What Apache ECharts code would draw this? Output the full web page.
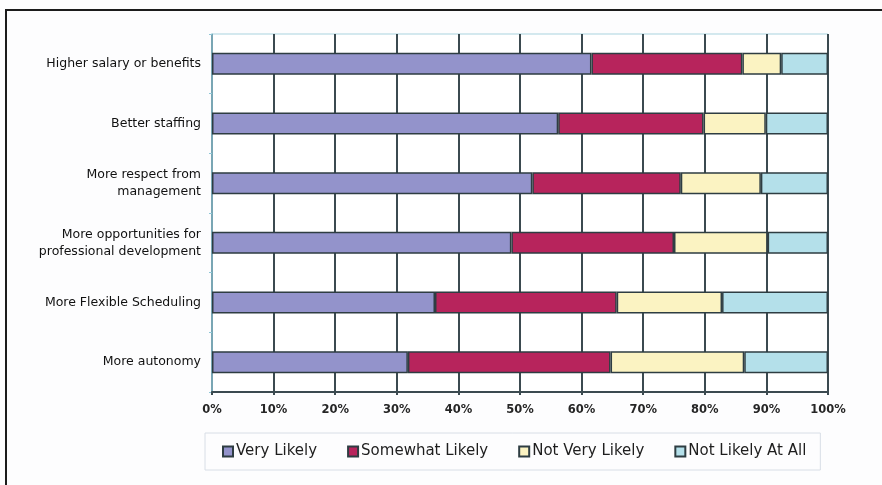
<!DOCTYPE html>
<html>
<head>
<meta charset="utf-8">
<script src="https://cdn.jsdelivr.net/npm/echarts@6/dist/echarts.min.js"></script>
<style>
  html, body { margin: 0; padding: 0; background: #fdfdfe; }
  #chart { width: 882px; height: 485px; }
</style>
</head>
<body>
<div id="chart"></div>
<script>
// Survey categories, top to bottom
const categories = [
  'Higher salary or benefits',
  'Better staffing',
  'More respect from\nmanagement',
  'More opportunities for\nprofessional development',
  'More Flexible Scheduling',
  'More autonomy'
];

// Share of respondents (%) per answer
const veryLikely     = [61.6, 56.2, 52.0, 48.6, 36.2, 31.8];
const somewhatLikely = [24.5, 23.6, 24.1, 26.4, 29.5, 32.9];
const notVeryLikely  = [6.3, 10.1, 13.0, 15.2, 17.1, 21.7];
const notLikelyAtAll = [7.6, 10.1, 10.9, 9.8, 17.2, 13.6];

const seriesNames = ['Very Likely', 'Somewhat Likely', 'Not Very Likely', 'Not Likely At All'];
const seriesData = [veryLikely, somewhatLikely, notVeryLikely, notLikelyAtAll];
const seriesColors = ['#9393cb', '#b7245c', '#fbf3c2', '#b4e0ea'];

const FONT = 'DejaVu Sans';
const chart = echarts.init(document.getElementById('chart'), null, { renderer: 'canvas' });

chart.setOption({
  backgroundColor: '#fdfdfe',
  animation: false,
  grid: {
    left: 212, right: 54, top: 34, bottom: 93,
    show: true, backgroundColor: '#ffffff',
    borderColor: '#a9d3df', borderWidth: 1
  },
  xAxis: {
    type: 'value',
    min: 0, max: 100, interval: 10,
    axisLine: { show: true, lineStyle: { color: '#3b4a50', width: 2 } },
    axisTick: { show: true, length: 3, lineStyle: { color: '#3b4a50', width: 2 } },
    splitLine: { show: true, lineStyle: { color: '#3b4a50', width: 2 } },
    axisLabel: {
      formatter: '{value}%', margin: 12,
      fontFamily: FONT, fontSize: 11.5, fontWeight: 'bold', color: '#262626'
    }
  },
  yAxis: {
    type: 'category',
    inverse: true,
    data: categories,
    axisLine: { show: true, lineStyle: { color: '#8fc6d6', width: 1.5 } },
    axisTick: { show: true, length: 3, lineStyle: { color: '#8fc6d6' } },
    axisLabel: {
      margin: 11, fontFamily: FONT, fontSize: 12.5, color: '#111111',
      lineHeight: 17, align: 'right'
    }
  },
  legend: {
    data: seriesNames,
    left: 205, top: 433,
    padding: [11, 14, 11, 17],
    itemGap: 30,
    itemWidth: 10, itemHeight: 10,
    icon: 'rect',
    borderColor: '#d8dee6', borderWidth: 1,
    textStyle: { fontFamily: FONT, fontSize: 15, color: '#1e1e1e', padding: [0, 0, 0, -2] }
  },
  series: seriesNames.map((name, i) => ({
    name: name,
    type: 'bar',
    stack: 'total',
    barWidth: 22,
    data: seriesData[i],
    itemStyle: { color: seriesColors[i], borderColor: '#2e3d42', borderWidth: 1.5 }
  })),
  graphic: [
    { type: 'line', shape: { x1: 5, y1: 10, x2: 882, y2: 10 }, style: { stroke: '#1c1c1c', lineWidth: 2 } },
    { type: 'line', shape: { x1: 6, y1: 9, x2: 6, y2: 485 }, style: { stroke: '#1c1c1c', lineWidth: 2 } }
  ]
});
</script>
</body>
</html>
